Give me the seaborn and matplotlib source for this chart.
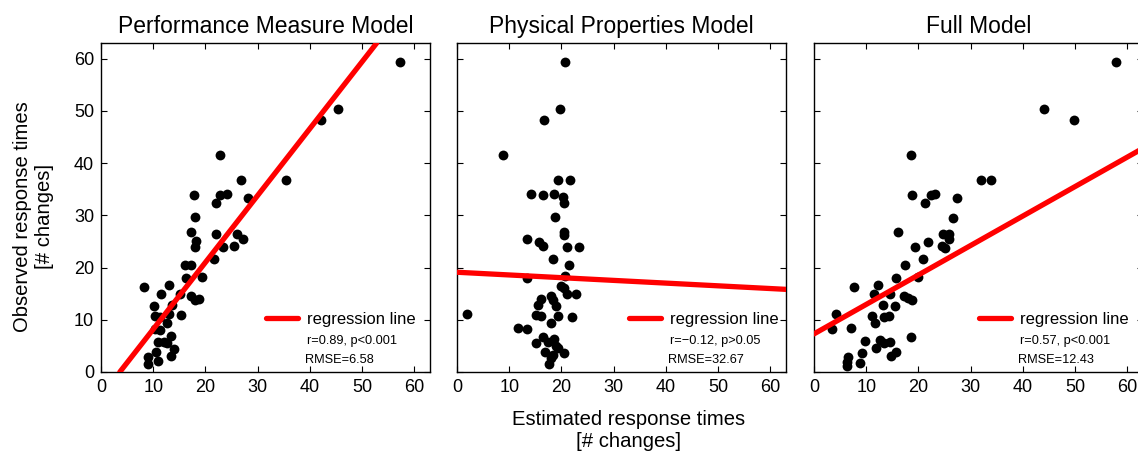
import matplotlib
matplotlib.use("Agg")
import matplotlib.pyplot as plt
import numpy as np
import pandas as pd
import seaborn as sns

# estimated (x) vs observed (y) response times
perf_est = [57.3, 45.3, 42.1, 22.7, 35.5, 26.9, 28.1, 24.1, 22.7, 22.0, 17.9, 18.0, 17.2,
            22.1, 26.0, 27.2, 18.1, 18.0, 23.3, 25.4, 21.7, 16.1, 17.3, 19.4, 16.2, 8.3,
            13.0, 11.4, 15.2, 17.3, 18.0, 18.7, 10.2, 13.6, 10.4, 11.2, 13.0, 15.3, 12.6,
            10.4, 11.2, 13.4, 11.0, 12.0, 12.6, 10.6, 14.0, 13.4, 11.0, 8.9, 8.9]
perf_obs = [59.4, 50.3, 48.2, 41.5, 36.7, 36.7, 33.4, 34.1, 33.9, 32.4, 33.9, 29.6, 26.9,
            26.5, 26.5, 25.4, 25.0, 24.0, 24.0, 24.2, 21.7, 20.4, 20.4, 18.2, 18.0, 16.3,
            16.6, 15.0, 15.0, 14.6, 13.8, 14.0, 12.7, 12.8, 10.8, 10.5, 11.2, 11.0, 9.3,
            8.3, 8.1, 6.8, 5.8, 5.8, 5.6, 3.8, 4.4, 3.1, 2.2, 2.8, 1.5]

phys_est = [20.6, 19.7, 16.7, 8.8, 19.4, 21.7, 14.2, 16.5, 18.6, 20.3, 20.4, 18.7, 20.4,
            20.4, 13.4, 15.7, 16.5, 21.0, 23.3, 18.3, 21.4, 13.5, 20.6, 19.9, 20.4, 21.1,
            22.7, 18.0, 16.0, 18.3, 15.6, 19.0, 15.1, 16.0, 1.9, 19.3, 22.0, 18.0, 11.6,
            13.5, 15.1, 16.4, 17.4, 18.5, 19.4, 20.4, 16.9, 18.0, 17.7, 18.3, 19.0]
phys_obs = [59.4, 50.3, 48.2, 41.5, 36.7, 36.7, 34.1, 33.8, 34.0, 33.5, 32.4, 29.6, 26.9,
            26.3, 25.4, 24.9, 24.2, 24.0, 24.0, 21.7, 20.5, 18.0, 18.3, 16.5, 16.1, 15.0,
            15.0, 14.5, 14.0, 13.8, 12.8, 12.7, 11.0, 10.8, 11.2, 10.7, 10.5, 9.4, 8.4,
            8.2, 5.6, 6.7, 5.8, 6.3, 4.6, 3.6, 3.8, 2.7, 1.5, 3.3, 4.9]

full_est = [57.8, 44.1, 49.8, 18.5, 32.0, 33.9, 18.8, 22.5, 23.1, 27.4, 21.3, 26.7, 16.1,
            24.7, 25.8, 25.8, 21.9, 19.3, 24.6, 25.0, 20.8, 17.5, 19.9, 15.7, 7.7, 12.3,
            11.4, 14.6, 17.2, 18.0, 18.8, 13.2, 15.5, 11.1, 13.5, 14.3, 11.6, 4.3, 3.5,
            7.1, 18.5, 9.8, 12.6, 13.5, 14.5, 11.8, 9.2, 15.8, 14.7, 6.6, 6.4, 8.8, 6.4]
full_obs = [59.4, 50.3, 48.2, 41.5, 36.7, 36.7, 33.9, 33.9, 34.1, 33.4, 32.3, 29.5, 26.9,
            26.5, 26.5, 25.5, 24.9, 24.0, 24.2, 23.8, 21.7, 20.4, 18.2, 18.0, 16.3, 16.6,
            15.0, 15.0, 14.6, 14.1, 13.7, 12.8, 12.7, 10.8, 10.5, 10.8, 9.4, 11.1, 8.3,
            8.4, 6.7, 6.0, 6.2, 5.6, 5.7, 4.6, 3.6, 3.8, 3.1, 2.8, 2.0, 1.7, 1.2]

# regression lines as drawn in the figure
fit_intercept = [-4.6, 19.1, 7.3]
fit_slope = [1.28, -0.052, 0.564]

titles = ["Performance Measure Model", "Physical Properties Model", "Full Model"]
stats_r = ["r=0.89, p<0.001", "r=\u22120.12, p>0.05", "r=0.57, p<0.001"]
stats_rmse = ["RMSE=6.58", "RMSE=32.67", "RMSE=12.43"]
ticks = [0, 10, 20, 30, 40, 50, 60]

sns.set_style("ticks")
plt.rcParams["font.family"] = ["Liberation Sans", "DejaVu Sans"]
plt.rcParams["text.color"] = "black"
plt.rcParams["xtick.color"] = "black"
plt.rcParams["ytick.color"] = "black"
plt.rcParams["axes.labelcolor"] = "black"

fig = plt.figure(figsize=(11.38, 4.57), dpi=100)
lefts = [0.0888, 0.4016, 0.7153]
legend_x = [0.502, 0.523, 0.502]

panels = [(perf_est, perf_obs), (phys_est, phys_obs), (full_est, full_obs)]
for i, (est, obs) in enumerate(panels):
    ax = fig.add_axes([lefts[i], 0.186, 0.289, 0.72])
    df = pd.DataFrame({"est": est, "obs": obs})
    sns.scatterplot(data=df, x="est", y="obs", ax=ax, color="black", s=50,
                    edgecolor="black", linewidth=0, zorder=3)
    ax.axline((0, fit_intercept[i]), slope=fit_slope[i], color="red",
              linewidth=3.8, label="regression line", zorder=4)
    ax.set_xlim(0, 63)
    ax.set_ylim(0, 63)
    ax.set_xticks(ticks)
    ax.set_yticks(ticks)
    ax.tick_params(direction="in", top=True, right=True, length=4, width=0.8,
                   labelsize=13, pad=5)
    if i > 0:
        ax.set_yticklabels([])
    for sp in ax.spines.values():
        sp.set_visible(True)
        sp.set_linewidth(1.0)
        sp.set_color("black")
    ax.set_xlabel("")
    ax.set_ylabel("")
    ax.set_title(titles[i], fontsize=16.5, pad=7.5)
    ax.legend(loc="center left", bbox_to_anchor=(legend_x[i], 0.16),
              frameon=False, fontsize=12, handlelength=1.9,
              handletextpad=0.54, borderpad=0, borderaxespad=0)
    tx = legend_x[i] + 0.125
    ax.text(tx, 0.094, stats_r[i], transform=ax.transAxes,
            fontsize=9.2, va="center", ha="left")
    ax.text(tx - 0.006, 0.036, stats_rmse[i], transform=ax.transAxes,
            fontsize=9.2, va="center", ha="left")

fig.text(0.552, 0.057, "Estimated response times\n[# changes]", ha="center",
         va="center", fontsize=14.6, linespacing=1.2)
fig.text(0.029, 0.527, "Observed response times\n[# changes]", ha="center",
         va="center", fontsize=14.6, rotation=90, linespacing=1.2)

fig.savefig("out.png", dpi=100)
